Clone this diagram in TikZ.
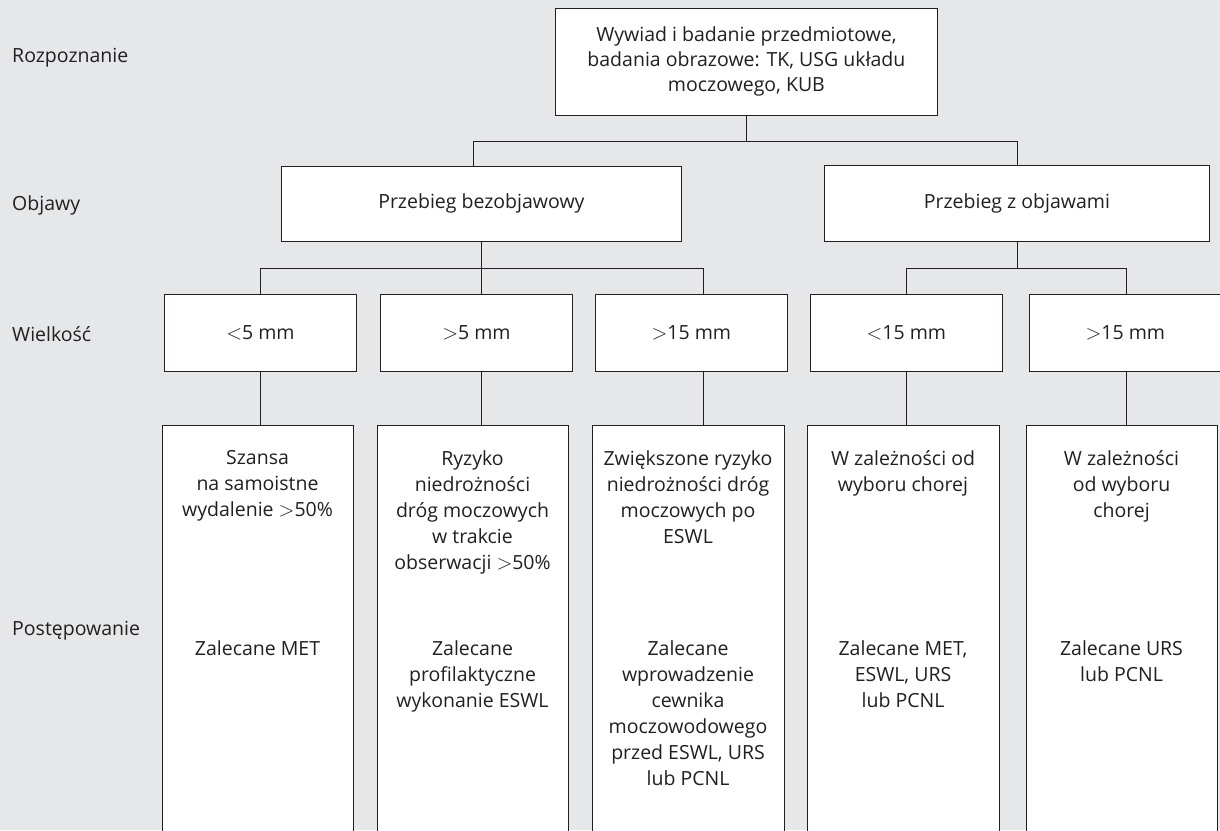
\documentclass[tikz,border=0pt]{standalone}
\usepackage{fontspec}
\setmainfont{Open Sans}
\definecolor{bg}{HTML}{E6E7E8}
\definecolor{ink}{HTML}{231F20}
\newcommand\txtfont{\fontsize{19.5}{26}\selectfont}
\newcommand\topfont{\fontsize{19.5}{25}\selectfont}
\newcommand\lt{$<$}
\newcommand\gt{$>$}
\begin{document}
\begin{tikzpicture}[x=1pt,y=-1pt,
  box/.style={draw=ink, line width=0.8pt, fill=white, inner sep=0pt, anchor=north west, text=ink, align=center, font=\txtfont},
  conn/.style={draw=ink, line width=0.8pt},
  lab/.style={anchor=west, text=ink, inner sep=0pt, font=\txtfont},
  txt/.style={text=ink, align=center, inner sep=0pt, anchor=north, font=\txtfont}
]
\fill[bg] (0,0) rectangle (1220,830);
\useasboundingbox (0,0) rectangle (1220,830);

% row labels
\node[lab] (l1) at (12,58) {Rozpoznanie};
\node[lab] (l2) at (12,205) {Objawy};
\node[lab] (l3) at (12,334) {Wielkość};
\node[lab] (l4) at (12,631) {Postępowanie};

% top box
\node[box, font=\topfont, minimum width=382pt, minimum height=107pt] (top) at (555,8)
  {Wywiad i badanie przedmiotowe,\\ badania obrazowe: TK, USG układu\\ moczowego, KUB};

% row 2
\node[box, minimum width=400pt, minimum height=75pt] (asym) at (281,166) {Przebieg bezobjawowy};
\node[box, minimum width=385pt, minimum height=76pt] (sym) at (824,165) {Przebieg z objawami};

% row 3
\node[box, minimum width=192pt, minimum height=77pt] (s1) at (164,294) {\lt5 mm};
\node[box, minimum width=192pt, minimum height=77pt] (s2) at (380,294) {\gt5 mm};
\node[box, minimum width=192pt, minimum height=77pt] (s3) at (595,294) {\gt15 mm};
\node[box, minimum width=192pt, minimum height=77pt] (s4) at (810,294) {\lt15 mm};
\node[box, minimum width=192pt, minimum height=77pt] (s5) at (1029,294) {\gt15 mm};

% row 4 boxes (run off the bottom edge)
\node[box, minimum width=191pt, minimum height=420pt] (b1) at (162,425) {};
\node[box, minimum width=191pt, minimum height=420pt] (b2) at (377,425) {};
\node[box, minimum width=192pt, minimum height=420pt] (b3) at (592,425) {};
\node[box, minimum width=192pt, minimum height=420pt] (b4) at (807,425) {};
\node[box, minimum width=191pt, minimum height=420pt] (b5) at (1026,425) {};

% texts in row 4
\node[txt] (b1a) at (257.5,450) {Szansa\\ na samoistne\\ wydalenie \gt50\%};
\node[txt] (b1b) at (257.5,640) {Zalecane MET};
\node[txt] (b2a) at (472.5,450) {Ryzyko\\ niedrożności\\ dróg moczowych\\ w trakcie\\ obserwacji \gt50\%};
\node[txt] (b2b) at (472.5,640) {Zalecane\\ profilaktyczne\\ wykonanie ESWL};
\node[txt] (b3a) at (688,450) {Zwiększone ryzyko\\ niedrożności dróg\\ moczowych po\\ ESWL};
\node[txt] (b3b) at (688,640) {Zalecane\\ wprowadzenie\\ cewnika\\ moczowodowego\\ przed ESWL, URS\\ lub PCNL};
\node[txt] (b4a) at (903,450) {W zależności od\\ wyboru chorej};
\node[txt] (b4b) at (903,640) {Zalecane MET,\\ ESWL, URS\\ lub PCNL};
\node[txt] (b5a) at (1121.5,450) {W zależności\\ od wyboru\\ chorej};
\node[txt] (b5b) at (1121.5,640) {Zalecane URS\\ lub PCNL};

% connectors: top -> row 2
\coordinate (h1l) at (473,141);
\coordinate (h1r) at (sym.south |- h1l);
\draw[conn] (top.south) -- (top.south |- h1l);
\draw[conn] (h1l) -- (h1r |- h1l);
\draw[conn] (h1l) -- (h1l |- asym.north);
\draw[conn] (sym.north |- h1l) -- (sym.north);

% row 2 -> row 3
\coordinate (h2l) at (260,268);
\coordinate (h2r) at (703,268);
\coordinate (h3l) at (906,268);
\coordinate (h3r) at (1126,268);
\draw[conn] (asym.south) -- (asym.south |- h2l);
\draw[conn] (h2l) -- (h2r);
\draw[conn] (h2l) -- (h2l |- s1.north);
\draw[conn] (asym.south |- h2l) -- (asym.south |- s2.north);
\draw[conn] (h2r) -- (h2r |- s3.north);
\draw[conn] (sym.south) -- (sym.south |- h3l);
\draw[conn] (h3l) -- (h3r);
\draw[conn] (h3l) -- (h3l |- s4.north);
\draw[conn] (h3r) -- (h3r |- s5.north);

% row 3 -> row 4
\draw[conn] (h2l |- s1.south) -- (h2l |- b1.north);
\draw[conn] (asym.south |- s2.south) -- (asym.south |- b2.north);
\draw[conn] (h2r |- s3.south) -- (h2r |- b3.north);
\draw[conn] (h3l |- s4.south) -- (h3l |- b4.north);
\draw[conn] (h3r |- s5.south) -- (h3r |- b5.north);
\end{tikzpicture}
\end{document}
